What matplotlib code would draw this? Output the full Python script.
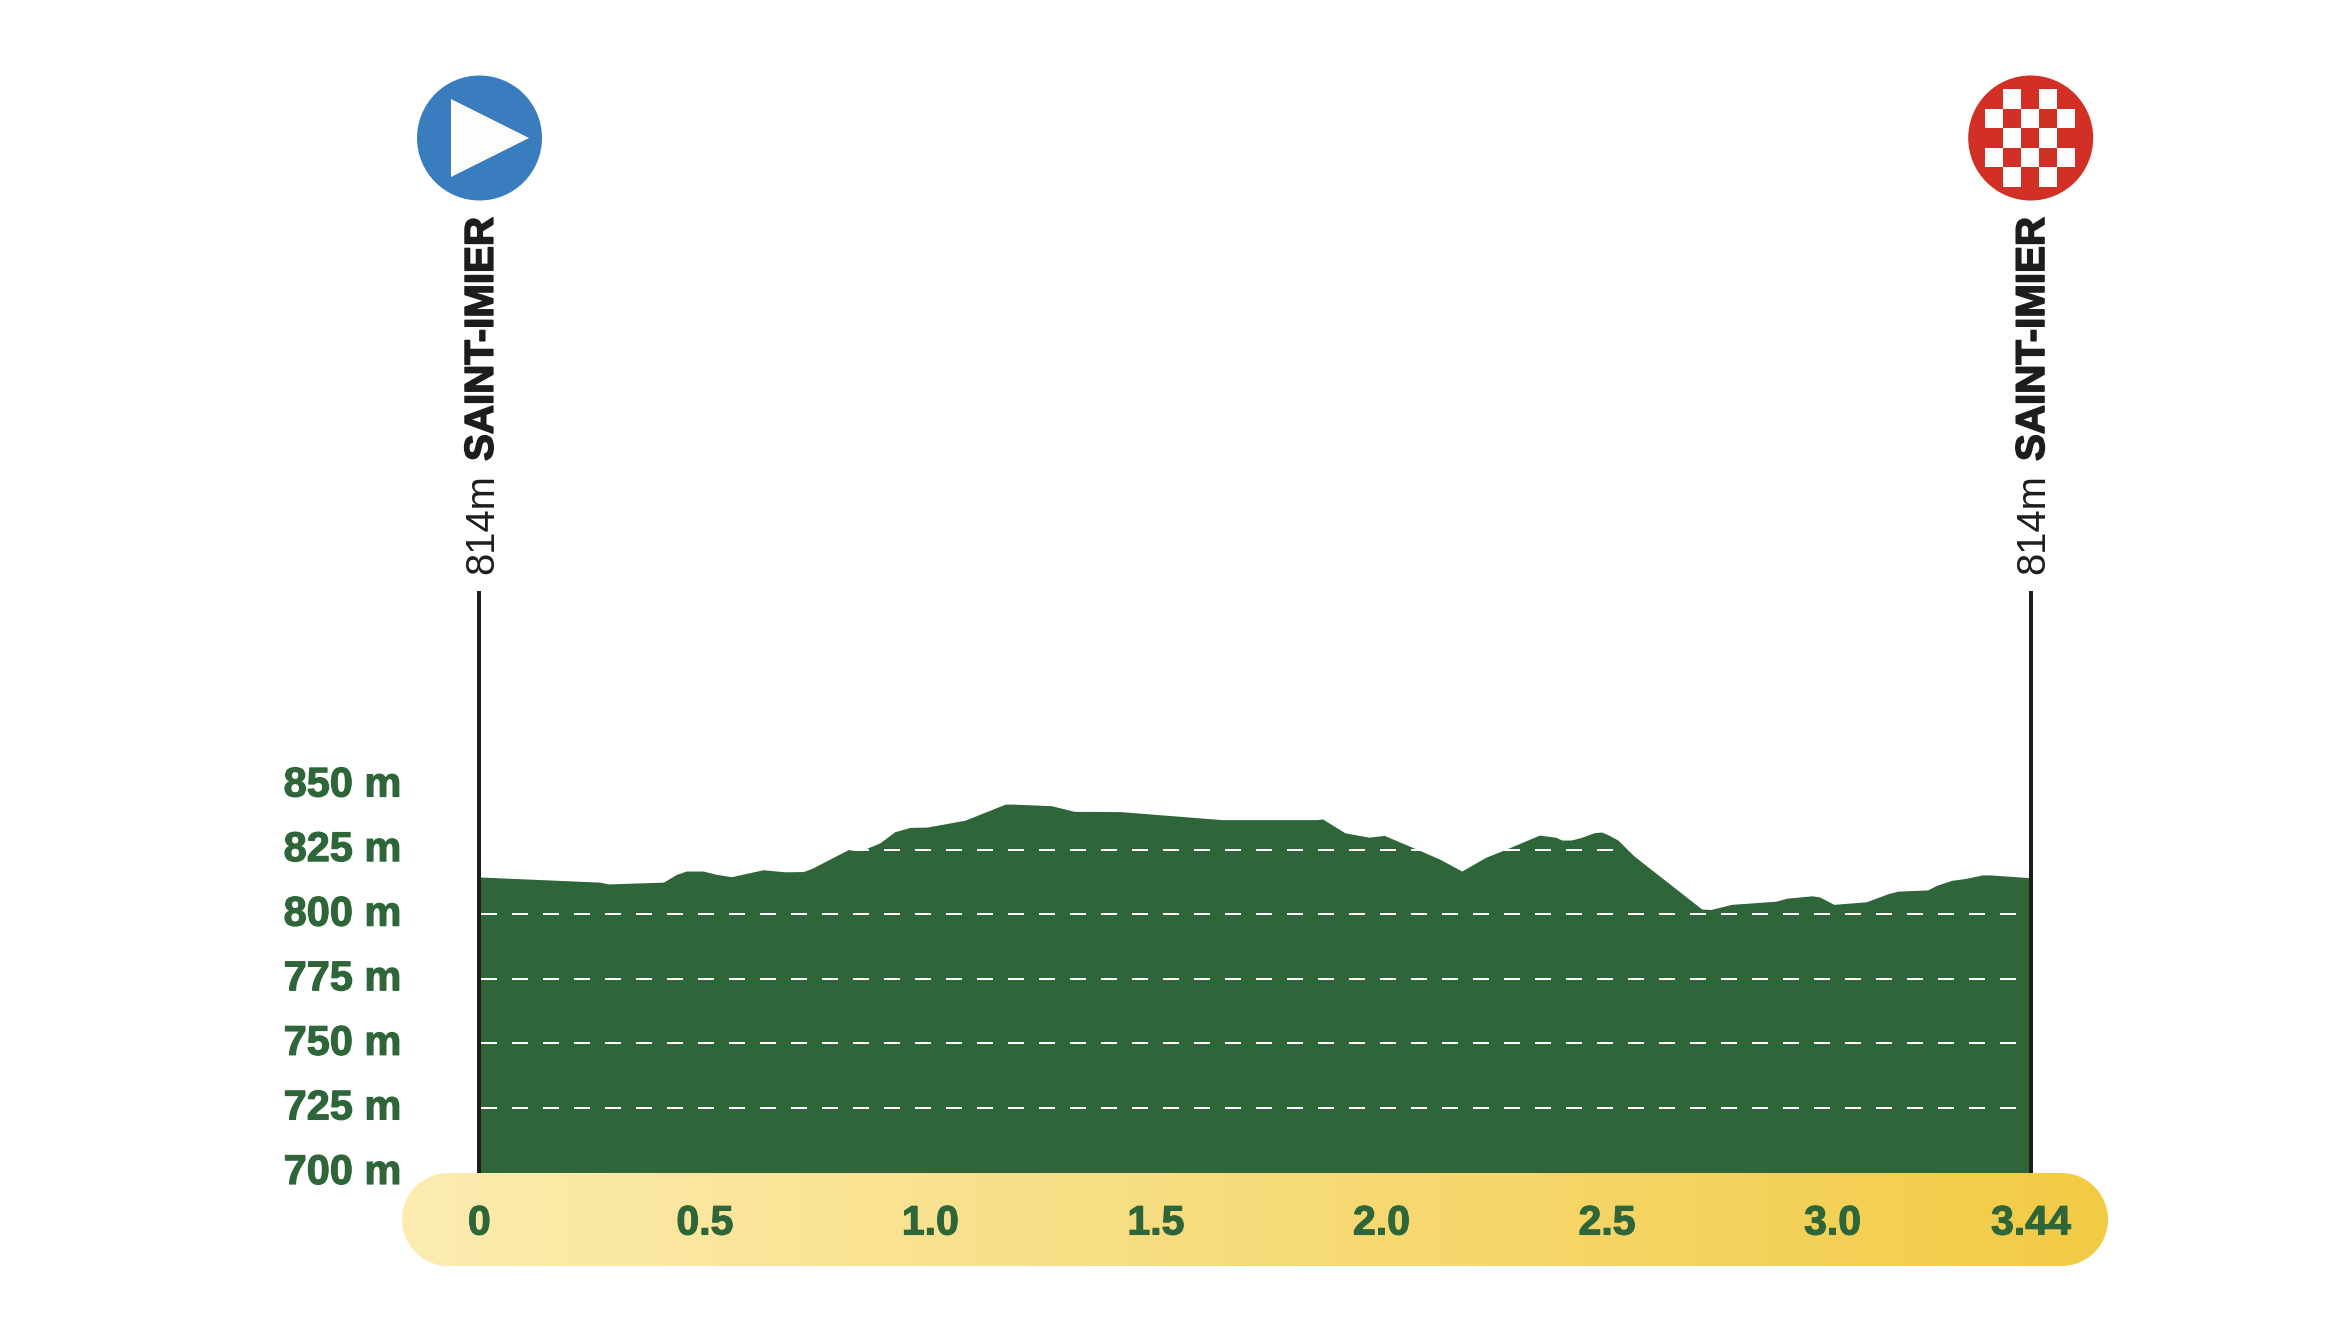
import numpy as np
import matplotlib
matplotlib.use("Agg")
import matplotlib.pyplot as plt
import matplotlib.patheffects as pe
from matplotlib.colors import LinearSegmentedColormap
from matplotlib.patches import Circle, Polygon, Rectangle
from matplotlib.transforms import ScaledTranslation

plt.rcParams["font.family"] = ["Liberation Sans", "DejaVu Sans"]

# =========================
# DATA
# =========================
km = [0, 0.267, 0.286, 0.408, 0.437, 0.459, 0.496, 0.526, 0.559, 0.629, 0.677,
      0.718, 0.737, 0.818, 0.825, 0.859, 0.888, 0.921, 0.955, 0.992, 1.043,
      1.077, 1.166, 1.183, 1.268, 1.319, 1.421, 1.646, 1.858, 1.869, 1.919,
      1.972, 2.006, 2.083, 2.129, 2.178, 2.231, 2.274, 2.350, 2.386, 2.400,
      2.420, 2.441, 2.471, 2.488, 2.504, 2.524, 2.560, 2.710, 2.730, 2.776,
      2.874, 2.899, 2.954, 2.971, 3.003, 3.075, 3.124, 3.145, 3.211, 3.230,
      3.264, 3.294, 3.332, 3.349, 3.44]
elevation = [814.4, 812.4, 811.7, 812.4, 815.4, 816.7, 816.7, 815.4, 814.5, 817.2, 816.4,
             816.5, 817.7, 825, 824.8, 825.5, 827.6, 831.9, 833.6, 833.7, 835.3,
             836.4, 842.6, 842.6, 842, 839.8, 839.7, 836.6, 836.6, 836.9, 831.5,
             829.8, 830.5, 824.8, 821.3, 816.7, 822, 825, 830.6, 829.8, 828.7,
             828.7, 829.6, 831.5, 831.8, 830.6, 828.7, 822.5, 802, 801.8, 803.8,
             805, 806.2, 807.1, 806.7, 803.8, 804.8, 808, 808.9, 809.4, 811.1,
             813.1, 813.8, 815.2, 815.2, 814.1]

km_ticks = [0, 0.5, 1.0, 1.5, 2.0, 2.5, 3.0, 3.44]
km_labels = ["0", "0.5", "1.0", "1.5", "2.0", "2.5", "3.0", "3.44"]
m_ticks = [700, 725, 750, 775, 800, 825, 850]
m_labels = ["700 m", "725 m", "750 m", "775 m", "800 m", "825 m", "850 m"]
grid_levels = [725, 750, 775, 800, 825]

place = "SAINT-IMIER"
place_height = "814m"

GREEN = "#2E6539"
INK = "#1D1D1B"
BLUE = "#3A7DBE"
RED = "#D22F27"

W, H = 2334, 1320
PX = 72 / 100  # one image pixel in points


def heavy(color, px=1.2):
    # the original lettering is heavier than Liberation Sans Bold
    return [pe.withStroke(linewidth=px * PX, foreground=color)]


fig = plt.figure(figsize=(W / 100, H / 100), dpi=100, facecolor="white")

# =========================
# PIXEL LAYER (band, icons)
# =========================
bg = fig.add_axes([0, 0, 1, 1], zorder=1)
bg.set_xlim(0, W)
bg.set_ylim(H, 0)
bg.axis("off")

band_cmap = LinearSegmentedColormap.from_list("band", ["#FCECB0", "#F2CB45"])
band = bg.imshow(np.linspace(0, 1, 256).reshape(1, -1), cmap=band_cmap,
                 extent=(402, 2108, 1266, 1173), aspect="auto", zorder=1)
# pill outline for the band: two half circles
r = 46.5
t = np.linspace(-np.pi / 2, np.pi / 2, 60)
right_end = np.column_stack([2108 - r + r * np.cos(t), 1219.5 + r * np.sin(t)])
left_end = np.column_stack([402 + r - r * np.cos(t[::-1]), 1219.5 + r * np.sin(t[::-1])])
band_clip = Polygon(np.vstack([right_end, left_end]), fc="none", ec="none")
bg.add_patch(band_clip)
band.set_clip_path(band_clip)
bg.set_xlim(0, W)
bg.set_ylim(H, 0)

# start icon
bg.add_patch(Circle((479.5, 138), 62.5, fc=BLUE, ec="none"))
bg.add_patch(Polygon([(451, 99), (451, 177), (529, 138)], fc="#FDFDFD", ec="none"))

# finish icon
bg.add_patch(Circle((2030.7, 138), 62.5, fc=RED, ec="none"))
for row in range(5):
    for col in range(5):
        if (row + col) % 2 == 1:
            bg.add_patch(Rectangle((1985 + col * 18, 89.3 + row * 19.5), 18, 19.5,
                                   fc="#FDFDFD", ec="none"))

# vertical labels
for x in (481.8, 2033):
    bg.text(x, 461, place, rotation=90, ha="center", va="bottom", fontsize=40.3 * PX,
            fontweight="bold", color=INK, path_effects=heavy(INK, 1.6))
    bg.text(x, 574, place_height, rotation=90, ha="center", va="bottom", fontsize=40 * PX,
            color=INK)

# =========================
# PROFILE
# =========================
x0, x1 = 479.3, 2031
y_top, y_bottom = 785, 1172.5
ax = fig.add_axes([x0 / W, 1 - y_bottom / H, (x1 - x0) / W, (y_bottom - y_top) / H],
                  zorder=2)
ax.patch.set_alpha(0)
ax.set_xlim(0, 3.44)
ax.set_ylim(700, 850)
for side in ax.spines.values():
    side.set_visible(False)

ax.fill_between(km, elevation, 700, color=GREEN, lw=0, zorder=1)

for level in grid_levels:
    ax.plot([0.0045, 3.406], [level, level], color="white", lw=2 * PX,
            dashes=(8, 7.5), dash_capstyle="butt", zorder=2)

ax.vlines([0, 3.44], 700, 925, color=INK, lw=4 * PX, clip_on=False, zorder=3)

ax.set_xticks(km_ticks, km_labels)
ax.set_yticks(m_ticks, m_labels)
ax.tick_params(axis="both", length=0, labelcolor=GREEN)
ax.tick_params(axis="x", pad=23, labelsize=41 * PX)
ax.tick_params(axis="y", pad=56, labelsize=41.5 * PX)
lift = ScaledTranslation(0, 4 / 100, fig.dpi_scale_trans)
for lab in ax.get_yticklabels():
    lab.set_transform(lab.get_transform() + lift)
for lab in ax.get_xticklabels() + ax.get_yticklabels():
    lab.set_fontweight("bold")
    lab.set_path_effects(heavy(GREEN))

fig.savefig("out.png", dpi=100, facecolor="white")
